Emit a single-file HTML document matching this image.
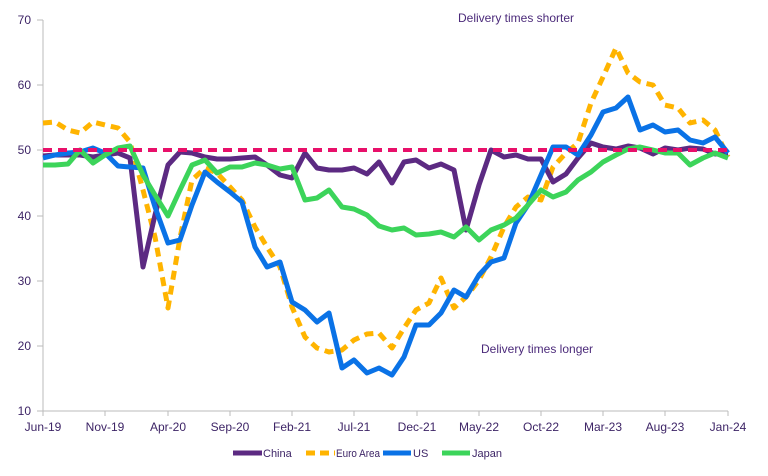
<!DOCTYPE html>
<html><head><meta charset="utf-8"><style>
body{margin:0;background:#fff}
svg text{font-family:"Liberation Sans",sans-serif;}
</style></head><body>
<svg width="768" height="471" viewBox="0 0 768 471" xmlns="http://www.w3.org/2000/svg">
<g fill="#3d2466" font-size="12">
<text x="31" y="24" text-anchor="end">70</text>
<text x="31" y="89" text-anchor="end">60</text>
<text x="31" y="154" text-anchor="end">50</text>
<text x="31" y="220" text-anchor="end">40</text>
<text x="31" y="285" text-anchor="end">30</text>
<text x="31" y="350" text-anchor="end">20</text>
<text x="31" y="415" text-anchor="end">10</text>
</g>
<g stroke="#bbb" stroke-width="1">
<line x1="43" y1="20" x2="43" y2="411"/>
<line x1="43" y1="411" x2="728" y2="411"/>
<line x1="37" y1="20" x2="43" y2="20"/><line x1="37" y1="85" x2="43" y2="85"/><line x1="37" y1="150" x2="43" y2="150"/><line x1="37" y1="216" x2="43" y2="216"/><line x1="37" y1="281" x2="43" y2="281"/><line x1="37" y1="346" x2="43" y2="346"/><line x1="37" y1="411" x2="43" y2="411"/>
<line x1="43" y1="411" x2="43" y2="416"/><line x1="105" y1="411" x2="105" y2="416"/><line x1="168" y1="411" x2="168" y2="416"/><line x1="230" y1="411" x2="230" y2="416"/><line x1="292" y1="411" x2="292" y2="416"/><line x1="354" y1="411" x2="354" y2="416"/><line x1="417" y1="411" x2="417" y2="416"/><line x1="479" y1="411" x2="479" y2="416"/><line x1="541" y1="411" x2="541" y2="416"/><line x1="603" y1="411" x2="603" y2="416"/><line x1="665" y1="411" x2="665" y2="416"/><line x1="728" y1="411" x2="728" y2="416"/>
</g>
<g fill="#3d2466" font-size="12" text-anchor="middle">
<text x="43" y="431">Jun-19</text><text x="105" y="431">Nov-19</text><text x="168" y="431">Apr-20</text><text x="230" y="431">Sep-20</text><text x="292" y="431">Feb-21</text><text x="354" y="431">Jul-21</text><text x="417" y="431">Dec-21</text><text x="479" y="431">May-22</text><text x="541" y="431">Oct-22</text><text x="603" y="431">Mar-23</text><text x="665" y="431">Aug-23</text><text x="728" y="431">Jan-24</text>
</g>
<g fill="none" stroke-width="5" stroke-linejoin="round">
<polyline stroke="#ffb400" stroke-dasharray="9,6" points="43,123 55,122 68,130 80,133 93,122 105,125 118,128 130,142 143,190 155,237 168,308 180,238 192,180 205,168 217,173 230,187 242,200 255,227 267,247 280,267 292,307 305,337 317,348 329,352 342,350 354,340 367,334 379,333 392,348 404,328 416,310 429,303 441,278 454,308 466,297 479,280 491,257 504,227 516,207 528,197 541,200 553,167 566,153 578,143 591,103 603,77 616,48 628,73 640,82 653,85 665,105 678,108 690,123 703,120 715,130 728,157"/>
<polyline stroke="#5c2a82" points="43,156 55,155 68,155 80,155 93,157 105,155 118,153 130,158 143,267 155,215 168,165 180,152 192,153 205,157 217,159 230,159 242,158 255,157 267,165 280,175 292,178 305,153 317,168 329,170 342,170 354,168 367,174 379,162 392,183 404,162 416,160 429,168 441,164 454,170 466,230 479,185 491,150 504,157 516,155 528,159 541,159 553,182 566,174 578,158 591,143 603,147 616,149 628,146 640,148 653,154 665,148 678,150 690,148 703,149 715,154 728,153"/>
<polyline stroke="#0a72e6" points="43,158 55,155 68,153 80,152 93,148 105,153 118,166 130,167 143,168 155,207 168,243 180,240 192,205 205,172 217,182 230,192 242,202 255,247 267,267 280,262 292,302 305,310 317,322 329,313 342,368 354,360 367,373 379,368 392,375 404,357 416,325 429,325 441,313 454,290 466,297 479,275 491,262 504,258 516,223 528,205 541,175 553,147 566,147 578,155 591,135 603,112 616,108 628,97 640,130 653,125 665,132 678,130 690,140 703,143 715,137 728,153"/>
<polyline stroke="#3cd45a" points="43,165 55,165 68,164 80,150 93,163 105,155 118,148 130,146 143,175 155,195 168,216 180,190 192,165 205,160 217,173 230,167 242,167 255,163 267,165 280,169 292,167 305,200 317,198 329,190 342,207 354,209 367,215 379,226 392,230 404,228 416,235 429,234 441,232 454,237 466,227 479,240 491,230 504,225 516,218 528,205 541,190 553,197 566,192 578,180 591,172 603,162 616,155 628,149 640,147 653,150 665,153 678,153 690,165 703,158 715,153 728,158"/>
<line x1="43" y1="150" x2="728" y2="150" stroke="#e8106a" stroke-width="4" stroke-dasharray="9,6"/>
</g>
<g fill="#4b2a7a" font-size="12">
<text x="458" y="22">Delivery times shorter</text>
<text x="481" y="353">Delivery times longer</text>
</g>
<g stroke-width="5">
<line x1="233" y1="453" x2="262" y2="453" stroke="#5c2a82"/>
<line x1="306" y1="453" x2="335" y2="453" stroke="#ffb400" stroke-dasharray="9,5"/>
<line x1="383" y1="453" x2="411" y2="453" stroke="#0a72e6"/>
<line x1="442" y1="453" x2="470" y2="453" stroke="#3cd45a"/>
</g>
<g fill="#3d2466" font-size="11">
<text x="263" y="457">China</text>
<text x="336" y="457" textLength="44" lengthAdjust="spacingAndGlyphs">Euro Area</text>
<text x="413" y="457">US</text>
<text x="472" y="457">Japan</text>
</g>
</svg>
</body></html>
